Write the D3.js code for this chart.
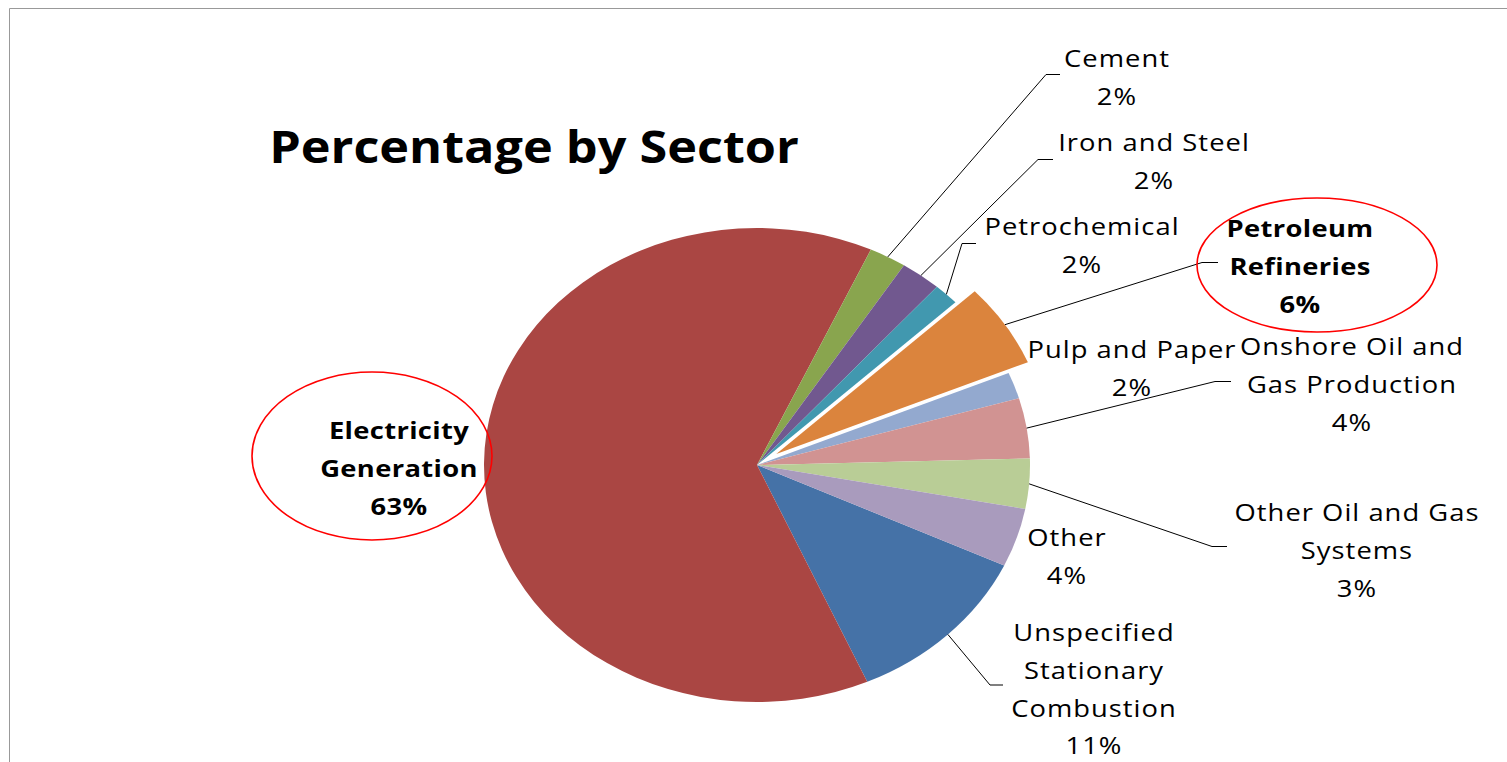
<!DOCTYPE html>
<html>
<head>
<meta charset="utf-8">
<script src="https://cdn.jsdelivr.net/npm/d3@7"></script>
<style>
  html, body { margin: 0; padding: 0; background: #fff; }
  svg { display: block; }
  .lbl { font-family: "Open Sans", sans-serif; font-size: 24px; fill: #000; letter-spacing: 0.9px; }
  .lbl.bold { font-weight: bold; letter-spacing: 0.3px; }
</style>
</head>
<body>
<div id="grafSector"></div>
<script>
// datos del grafico (orden de las porciones como en la hoja original)
const sectors = ["Unspecified Stationary Combustion", "Electricity Generation", "Cement", "Iron and Steel",
  "Petrochemical", "Petroleum Refineries", "Pulp and Paper", "Onshore Oil and Gas Production",
  "Other Oil and Gas Systems", "Other"];
const shares = [11.4, 63.4, 2.2, 2.4, 1.5, 5.7, 1.8, 4.1, 3.4, 4.0];
const labelLines = [
  ["Unspecified", "Stationary", "Combustion"],
  ["Electricity", "Generation"],
  ["Cement"],
  ["Iron and Steel"],
  ["Petrochemical"],
  ["Petroleum", "Refineries"],
  ["Pulp and Paper"],
  ["Onshore Oil and", "Gas Production"],
  ["Other Oil and Gas", "Systems"],
  ["Other"]
];
const colors = ["#4572A7", "#AA4643", "#89A54E", "#71588F", "#4198AF", "#DB843D", "#93A9CF", "#D19392", "#B9CD96", "#A99BBD"];
const highlighted = ["Electricity Generation", "Petroleum Refineries"];
const exploded = "Petroleum Refineries";

// posicion de etiquetas y lineas guia
const labelPos = [
  { x: 1094, y: 641, bend: [[990, 685], [1003, 685]] },
  { x: 399, y: 439 },
  { x: 1117, y: 67, bend: [[1046, 74.5], [1060, 74.5]] },
  { x: 1154, y: 151, bend: [[1038, 159.5], [1053, 159.5]] },
  { x: 1082, y: 235, bend: [[962, 243.5], [976, 243.5]] },
  { x: 1300, y: 237, bend: [[1202, 262.5], [1218, 262.5]] },
  { x: 1132, y: 358 },
  { x: 1352, y: 355, bend: [[1215, 381.5], [1231, 381.5]] },
  { x: 1357, y: 521, bend: [[1212, 546.5], [1227, 546.5]] },
  { x: 1067, y: 546 }
];

const W = 1507, H = 762;
const cx = 757, cy = 465, rx = 273, ry = 237;
const ky = ry / rx;
const explodeDist = 23;
const lineH = 37.8;

const svg = d3.select("#grafSector").append("svg")
  .attr("width", W)
  .attr("height", H);

// marco
svg.append("path")
  .attr("d", `M9.5,${H} V8.5 H${W}`)
  .attr("fill", "none")
  .attr("stroke", "#999")
  .attr("stroke-width", 1);

// titulo
svg.append("text")
  .attr("transform", "translate(534,163) scale(1.12,1)")
  .attr("text-anchor", "middle")
  .attr("font-family", "'Open Sans', sans-serif")
  .attr("font-weight", "bold")
  .attr("font-size", 45)
  .text("Percentage by Sector");

const start = 115.1 * Math.PI / 180;
const pie = d3.pie().sort(null).value(d => d).startAngle(start).endAngle(start + 2 * Math.PI);
const arcs = pie(shares);
const arc = d3.arc().innerRadius(0).outerRadius(rx);
const total = d3.sum(shares);

const offset = (d, i) => {
  if (sectors[i] !== exploded) return [0, 0];
  const m = (d.startAngle + d.endAngle) / 2;
  return [explodeDist * Math.sin(m), -explodeDist * Math.cos(m)];
};

const gPie = svg.append("g")
  .attr("transform", `translate(${cx},${cy}) scale(1,${ky})`);

gPie.selectAll("path")
  .data(arcs)
  .enter()
  .append("path")
  .attr("d", arc)
  .attr("transform", (d, i) => `translate(${offset(d, i)})`)
  .attr("fill", (d, i) => colors[i]);

// lineas guia
const gLines = svg.append("g");
arcs.forEach((d, i) => {
  const p = labelPos[i];
  if (!p.bend) return;
  const m = (d.startAngle + d.endAngle) / 2;
  const o = offset(d, i);
  const sx = cx + rx * Math.sin(m) + o[0];
  const sy = cy + (-rx * Math.cos(m) + o[1]) * ky;
  const pts = [[sx, sy]].concat(p.bend);
  gLines.append("path")
    .attr("d", d3.line()(pts))
    .attr("fill", "none")
    .attr("stroke", "#000")
    .attr("stroke-width", 1);
});

// etiquetas
const gLabels = svg.append("g");
arcs.forEach((d, i) => {
  const p = labelPos[i];
  const pct = Math.round(d.value / total * 100) + "%";
  const lines = labelLines[i].concat([pct]);
  const t = gLabels.append("text")
    .attr("class", "lbl" + (highlighted.includes(sectors[i]) ? " bold" : ""))
    .attr("transform", `translate(${p.x},${p.y}) scale(1.14,1)`)
    .attr("text-anchor", "middle");
  lines.forEach((l, k) => {
    t.append("tspan").attr("x", 0).attr("y", k * lineH).text(l);
  });
});

// elipses rojas de resalte
const rings = [
  { cx: 372, cy: 456, rx: 120, ry: 84 },
  { cx: 1317, cy: 265, rx: 120, ry: 67 }
];
svg.append("g").selectAll("ellipse")
  .data(rings)
  .enter()
  .append("ellipse")
  .attr("cx", d => d.cx)
  .attr("cy", d => d.cy)
  .attr("rx", d => d.rx)
  .attr("ry", d => d.ry)
  .attr("fill", "none")
  .attr("stroke", "#f00")
  .attr("stroke-width", 1.6);
</script>
</body>
</html>
